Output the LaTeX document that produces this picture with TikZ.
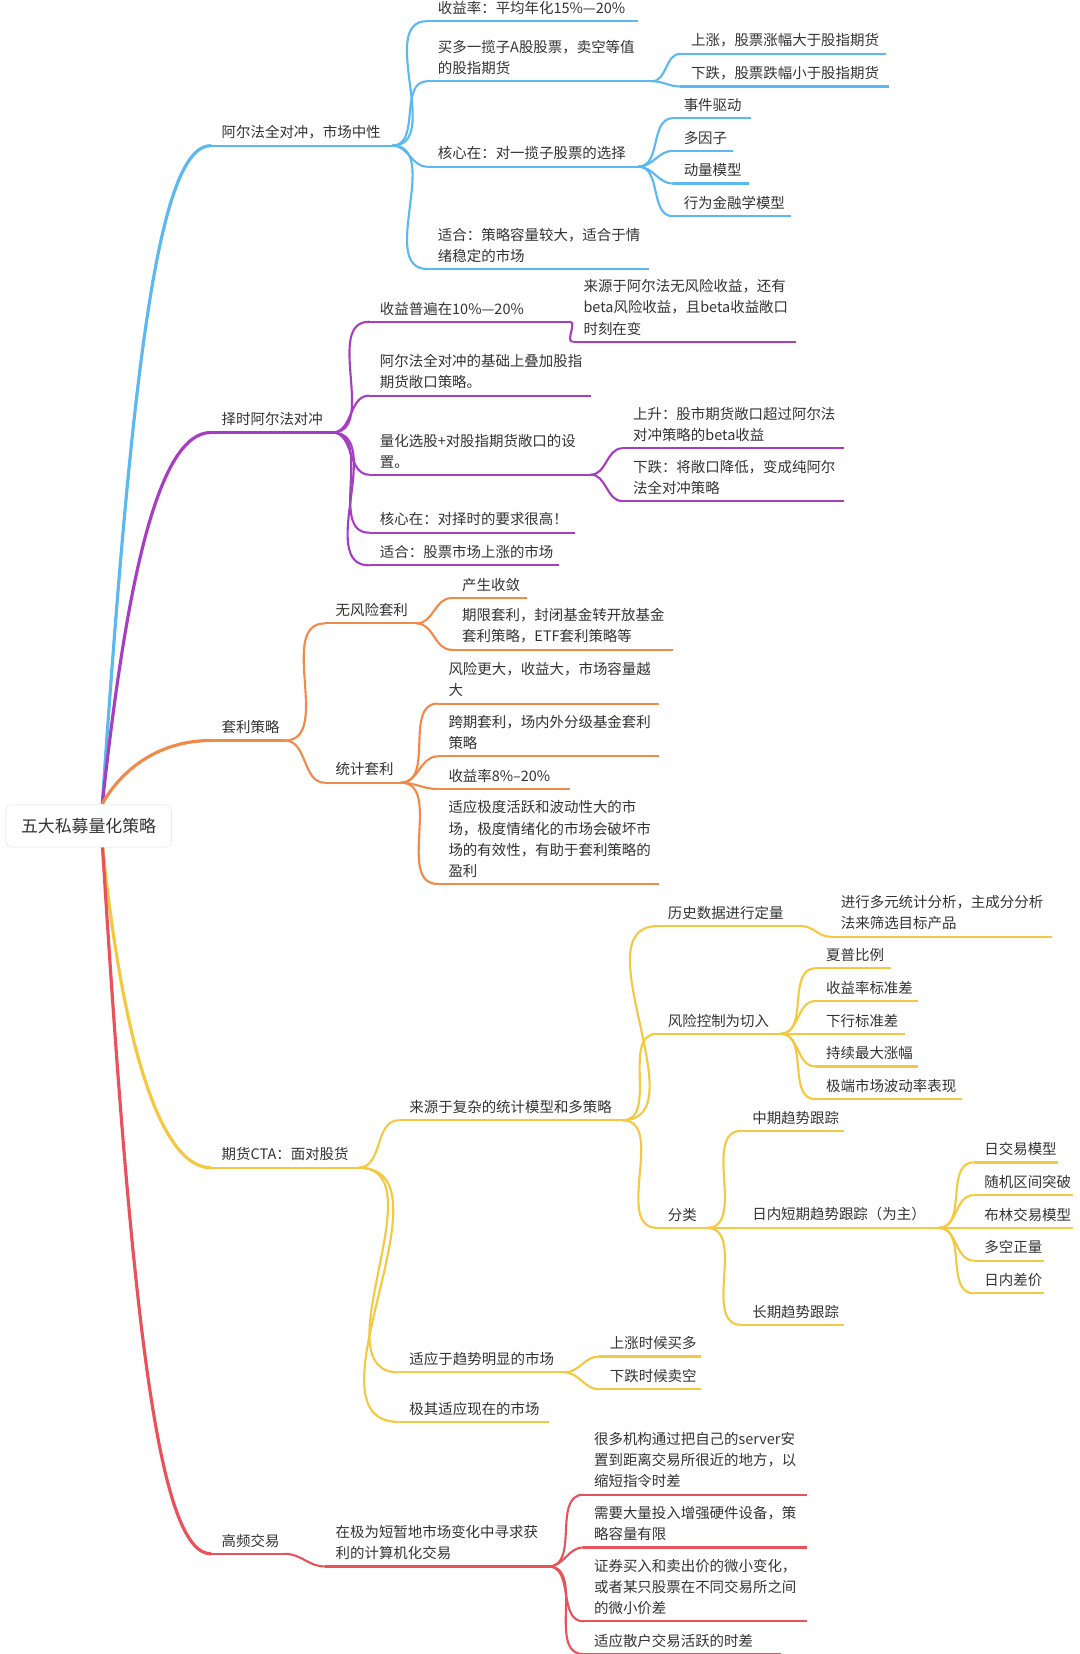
\documentclass[tikz,border=0pt]{standalone}
\usepackage{fontspec}
\setmainfont{Noto Sans CJK SC}
\definecolor{cb}{HTML}{5BB8F0}
\definecolor{cp}{HTML}{A53EC0}
\definecolor{co}{HTML}{F08A4B}
\definecolor{cy}{HTML}{F5C842}
\definecolor{cr}{HTML}{E8525A}
\definecolor{tx}{HTML}{333333}
\tikzset{
 lbl/.style={anchor=south west,align=left,inner sep=0pt,text=tx,font=\fontsize{13.7}{20}\selectfont},
 ul/.style={line width=2pt},
 cn/.style={line width=2pt},
 trunk/.style={line width=3pt}
}
\newcommand\lf[6]{% name x0 x1 y text color
 \draw[ul,#6] (#2,#4) coordinate (#1-s) -- (#3,#4) coordinate (#1-e);
 \node[lbl] (#1) at (#2+10,#4-6) {#5};}
\newcommand\cc[3]{\draw[cn,#3] (#1-e) to[out=0,in=180] (#2-s);}
\begin{document}
\begin{tikzpicture}[x=1pt,y=-1pt]
\useasboundingbox[fill=white] (0,0) rectangle (1023,1568);
% blue
\lf{a1}{200}{372}{138}{阿尔法全对冲，市场中性}{cb}
\lf{a11}{405}{605}{20}{收益率：平均年化15\%—20\%}{cb}
\lf{a12}{405}{618}{77}{买多一揽子A股股票，卖空等值\\的股指期货}{cb}
\lf{a121}{645}{840}{51}{上涨，股票涨幅大于股指期货}{cb}
\lf{a122}{645}{843}{82}{下跌，股票跌幅小于股指期货}{cb}
\lf{a13}{405}{605}{158}{核心在：对一揽子股票的选择}{cb}
\lf{a131}{638}{712}{112}{事件驱动}{cb}
\lf{a132}{638}{695}{143}{多因子}{cb}
\lf{a133}{638}{710}{174}{动量模型}{cb}
\lf{a134}{638}{750}{205}{行为金融学模型}{cb}
\lf{a14}{405}{615}{255}{适合：策略容量较大，适合于情\\绪稳定的市场}{cb}
\cc{a1}{a11}{cb}\cc{a1}{a12}{cb}\cc{a1}{a13}{cb}\cc{a1}{a14}{cb}
\cc{a12}{a121}{cb}\cc{a12}{a122}{cb}
\cc{a13}{a131}{cb}\cc{a13}{a132}{cb}\cc{a13}{a133}{cb}\cc{a13}{a134}{cb}
% purple
\lf{b1}{200}{315}{410}{择时阿尔法对冲}{cp}
\lf{b11}{350}{540}{305}{收益普遍在10\%—20\%}{cp}
\lf{b111}{543}{755}{324}{来源于阿尔法无风险收益，还有\\beta风险收益，且beta收益敞口\\时刻在变}{cp}
\lf{b12}{350}{560}{375}{阿尔法全对冲的基础上叠加股指\\期货敞口策略。}{cp}
\lf{b13}{350}{560}{450}{量化选股+对股指期货敞口的设\\置。}{cp}
\lf{b131}{590}{800}{425}{上升：股市期货敞口超过阿尔法\\对冲策略的beta收益}{cp}
\lf{b132}{590}{800}{475}{下跌：将敞口降低，变成纯阿尔\\法全对冲策略}{cp}
\lf{b14}{350}{545}{505}{核心在：对择时的要求很高！}{cp}
\lf{b15}{350}{530}{536}{适合：股票市场上涨的市场}{cp}
\cc{b1}{b11}{cp}\cc{b1}{b12}{cp}\cc{b1}{b13}{cp}\cc{b1}{b14}{cp}\cc{b1}{b15}{cp}
\cc{b11}{b111}{cp}\cc{b13}{b131}{cp}\cc{b13}{b132}{cp}
% orange
\lf{c1}{200}{270}{702}{套利策略}{co}
\lf{c11}{308}{395}{591}{无风险套利}{co}
\lf{c111}{428}{500}{567}{产生收敛}{co}
\lf{c112}{428}{638}{616}{期限套利，封闭基金转开放基金\\套利策略，ETF套利策略等}{co}
\lf{c12}{308}{380}{742}{统计套利}{co}
\lf{c121}{415}{625}{667}{风险更大，收益大，市场容量越\\大}{co}
\lf{c122}{415}{625}{717}{跨期套利，场内外分级基金套利\\策略}{co}
\lf{c123}{415}{540}{748}{收益率8\%–20\%}{co}
\lf{c124}{415}{625}{838}{适应极度活跃和波动性大的市\\场，极度情绪化的市场会破坏市\\场的有效性，有助于套利策略的\\盈利}{co}
\cc{c1}{c11}{co}\cc{c1}{c12}{co}
\cc{c11}{c111}{co}\cc{c11}{c112}{co}
\cc{c12}{c121}{co}\cc{c12}{c122}{co}\cc{c12}{c123}{co}\cc{c12}{c124}{co}
% yellow
\lf{d1}{200}{340}{1107}{期货CTA：面对股货}{cy}
\lf{d11}{378}{590}{1062}{来源于复杂的统计模型和多策略}{cy}
\lf{d111}{623}{760}{878}{历史数据进行定量}{cy}
\lf{d1111}{787}{997}{888}{进行多元统计分析，主成分分析\\法来筛选目标产品}{cy}
\lf{d112}{623}{740}{980}{风险控制为切入}{cy}
\lf{d1121}{773}{845}{918}{夏普比例}{cy}
\lf{d1122}{773}{870}{949}{收益率标准差}{cy}
\lf{d1123}{773}{858}{980}{下行标准差}{cy}
\lf{d1124}{773}{870}{1011}{持续最大涨幅}{cy}
\lf{d1125}{773}{912}{1042}{极端市场波动率表现}{cy}
\lf{d113}{623}{670}{1164}{分类}{cy}
\lf{d1131}{703}{800}{1072}{中期趋势跟踪}{cy}
\lf{d1132}{703}{890}{1164}{日内短期趋势跟踪（为主）}{cy}
\lf{d1133}{703}{800}{1256}{长期趋势跟踪}{cy}
\lf{e1}{923}{1003}{1102}{日交易模型}{cy}
\lf{e2}{923}{1017}{1133}{随机区间突破}{cy}
\lf{e3}{923}{1017}{1164}{布林交易模型}{cy}
\lf{e4}{923}{990}{1195}{多空正量}{cy}
\lf{e5}{923}{990}{1226}{日内差价}{cy}
\lf{d12}{378}{535}{1301}{适应于趋势明显的市场}{cy}
\lf{d121}{568}{665}{1286}{上涨时候买多}{cy}
\lf{d122}{568}{665}{1317}{下跌时候卖空}{cy}
\lf{d13}{378}{520}{1348}{极其适应现在的市场}{cy}
\cc{d1}{d11}{cy}\cc{d1}{d12}{cy}\cc{d1}{d13}{cy}
\cc{d11}{d111}{cy}\cc{d11}{d112}{cy}\cc{d11}{d113}{cy}
\cc{d111}{d1111}{cy}
\cc{d112}{d1121}{cy}\cc{d112}{d1122}{cy}\cc{d112}{d1123}{cy}\cc{d112}{d1124}{cy}\cc{d112}{d1125}{cy}
\cc{d113}{d1131}{cy}\cc{d113}{d1132}{cy}\cc{d113}{d1133}{cy}
\cc{d1132}{e1}{cy}\cc{d1132}{e2}{cy}\cc{d1132}{e3}{cy}\cc{d1132}{e4}{cy}\cc{d1132}{e5}{cy}
\cc{d12}{d121}{cy}\cc{d12}{d122}{cy}
% red
\lf{f1}{200}{270}{1473}{高频交易}{cr}
\lf{f11}{308}{520}{1485}{在极为短暂地市场变化中寻求获\\利的计算机化交易}{cr}
\lf{f111}{553}{765}{1417}{很多机构通过把自己的server安\\置到距离交易所很近的地方，以\\缩短指令时差}{cr}
\lf{f112}{553}{765}{1467}{需要大量投入增强硬件设备，策\\略容量有限}{cr}
\lf{f113}{553}{765}{1537}{证券买入和卖出价的微小变化，\\或者某只股票在不同交易所之间\\的微小价差}{cr}
\lf{f114}{553}{740}{1568}{适应散户交易活跃的时差}{cr}
\cc{f1}{f11}{cr}
\cc{f11}{f111}{cr}\cc{f11}{f112}{cr}\cc{f11}{f113}{cr}\cc{f11}{f114}{cr}
% trunks
\coordinate (ru) at (97,762);
\coordinate (rd) at (97,800);
\draw[trunk,cb] (ru) .. controls (125,350) and (150,138) .. (a1-s);
\draw[trunk,cp] (ru) .. controls (120,550) and (150,410) .. (b1-s);
\draw[trunk,co] (ru) .. controls (115,730) and (150,702) .. (c1-s);
\draw[trunk,cy] (rd) .. controls (115,980) and (150,1107) .. (d1-s);
\draw[trunk,cr] (rd) .. controls (125,1250) and (150,1473) .. (f1-s);
% root
\node[draw=black!12,fill=white,rounded corners=5pt,minimum width=157pt,minimum height=40pt,text=tx,font=\fontsize{16}{18}\selectfont] (root) at (84,783) {五大私募量化策略};
\end{tikzpicture}
\end{document}
